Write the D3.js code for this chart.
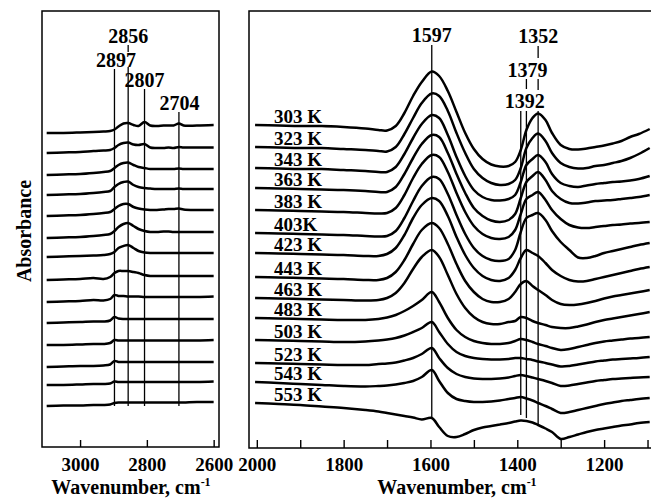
<!DOCTYPE html>
<html><head><meta charset="utf-8">
<script src="https://cdn.jsdelivr.net/npm/d3@7"></script>
<style>
body{margin:0;background:#fff}
text{font-family:"Liberation Serif","Times New Roman",serif;font-weight:bold;fill:#000}
</style>
</head><body>
<svg id="c" width="652" height="500"></svg>
<script>
// ---------------- DATA ----------------
const temperatures = ["303 K","323 K","343 K","363 K","383 K","403K","423 K","443 K","463 K","483 K","503 K","523 K","543 K","553 K"];

// left panel (C-H region)
const leftWavenumbers = [3100,3050,3000,2960,2930,2910,2897,2885,2870,2856,2840,2825,2807,2790,2770,2750,2735,2720,2704,2690,2650,2600];
const leftOffsets = [315,295,273,253,232,210,191,168,146,125,103,81,63,42];
const leftDeltas = [
  [0,0,0.5,1,1.5,2,3.5,6.5,9.5,10,8,7,11,7.5,7,7.5,7.5,7.5,9.5,7.5,7.5,8],
  [0,0.5,1,2,2.5,3,5,8,10,10.5,8.5,8,9,5.5,5,5,5.5,5,6,5.5,5.5,5.5],
  [0,0.5,1,2,3,4,7,10,12,12.5,10,8,7,6,6,6,6,6,6.5,6,6,6],
  [0,0.5,1,2,3,4,8,11,13,13.5,10,8,7,6.5,6,6,6,6,6.5,6,6,6],
  [0,0.5,1,2,3,4,7,10,12,12,9,7.5,6.5,6,6,6.5,7,7,7.5,6.5,6,6],
  [0,0.5,1,2,3,4,7,11,14,15,12,9,7,6,6,6.5,6.5,6,6,6,6,6],
  [0,0.5,1,1.5,2,3,5,9,11,12,9,6,4.5,4,4,4,4,4,4,4,4,4],
  [0,0.5,1,2,1,3,7,9,9,9,8,7,5,4,4,4,4,4,4,4,4,4],
  [0,0.5,1,2,1.5,3,7,6,6,5.5,5.5,5.5,5,5,5,5,5,5,5,5,5,5.5],
  [0,0.5,1,1.5,1.5,2.5,6,4.5,4,4,4,4,4,4,4,4,4,4,4,4,4,4],
  [0,0,0.5,1,1,2,5,4.5,4.5,4.5,4.5,4.5,4.5,4.5,4.5,4.5,4.5,4.5,4.5,4.5,4.5,5],
  [0,0.5,1,1,1.5,2.5,6,5,5,5,5,5,5,5,5,5,5,5,5,5,5,5],
  [0,0,0.5,1,1,1.5,3.5,3,3,3,3,3,3,3,3,3,3,3,3,3,3,3.5],
  [0,0.5,0.5,1,1,1.5,3,3.5,3.5,3.5,3.5,3.5,3.5,3.5,3.5,3.5,3.5,3.5,3.5,3.5,4,4]
];
const leftPeaks = [2897,2856,2807,2704];
const leftTicks = [3000,2800,2600];

// right panel (OCO / CH region)
const rightWavenumbers = [2004,1950,1900,1850,1800,1750,1720,1700,1680,1660,1640,1620,1597,1580,1560,1540,1520,1500,1480,1460,1440,1420,1405,1392,1379,1365,1352,1335,1320,1300,1280,1260,1240,1220,1200,1180,1160,1140,1120,1095];
const rightOffsets = [323,301,280,260,238,215,195,171,150,130,108,85,66,45];
const rightDeltas = [
  [0,-0.5,-1,-1,-2,-3.5,-5,-5.5,-1,12,29,43,53.5,49,34,13,-8,-24,-34,-39.5,-41.5,-41,-37,-25,-5,7,11.5,5,-8,-20,-24,-24.5,-23.5,-22,-20.5,-18.5,-16,-12,-9,-4],
  [0,-0.5,-1,-1,-2,-3,-4,-4.5,0,13,29,44,53.5,51,36,14,-6,-22,-31,-36,-38,-37,-33,-21,-1,9,13.5,6,-6,-16,-20,-21.5,-21,-19,-18,-16,-14,-11,-7,-1],
  [0,-0.5,-1,-1,-2,-3,-4,-4,1,14,30,44,53,50,33,11,-8,-22,-29,-32,-32.5,-31,-27,-14,3,9,13,6,-6,-15,-18,-19,-17.5,-16,-15,-14,-13.5,-12.5,-11,-8],
  [0,-0.5,-1,-1.5,-2,-3,-4,-4,1,14,30,44,53,51,35,14,-5,-20,-28,-32.5,-34,-32,-26,-10,6,12,16,8,-3,-11,-15,-15.5,-14.5,-13,-12.5,-12,-11,-10,-9,-7],
  [0,-0.5,-1,-1.5,-2,-3,-3.5,-3,2,15,32,46,55,53,38,17,-2,-16,-24,-28,-29,-27,-20,-4,11,15,18,10,0,-9,-15,-17.5,-18,-17,-16,-15,-14.5,-13.5,-13,-12],
  [0,-0.5,-1,-1.5,-2,-3,-3.5,-3,2,15,32,47,56,54,39,18,-1,-15,-23,-27,-28,-26,-17,1,15,18,20,13,2,-9,-17,-24.5,-25,-23,-20,-18,-16,-14,-12,-10],
  [0,-0.5,-1,-1.5,-2,-3,-3,-1,5,18,35,48,55,52,37,16,-2,-15,-23,-27,-28,-25,-17,-5,3,0,-3,-10,-17,-23,-27,-28.5,-28,-26,-24,-22,-20,-18,-16,-14],
  [0,-0.5,-1,-1.5,-2,-3,-3,-1,5,17,33,47,54,49,33,13,-4,-15,-22,-25,-25,-22,-15,-7,-4,-9,-13,-18,-23,-27,-28,-27.5,-26,-24,-21.5,-19.5,-18,-16.5,-15,-13],
  [0,-0.5,-1,-1.5,-2,-2.5,-2,0,5,15,29,41,48,41,23,4,-10,-19,-24,-26,-26,-24,-23,-19,-20,-23,-25,-27,-29,-30,-30,-28.5,-26.5,-24,-22,-20.5,-19,-17.5,-16,-14],
  [0,-0.5,-1,-1.5,-2,-2,-1,0.5,3,7,12,18,26,16,0,-12,-19,-23,-25,-26,-26,-25,-23,-21,-22,-24,-26,-28,-30,-32,-31,-29,-27,-25,-23.5,-22.5,-21.5,-20.5,-20,-19],
  [0,-0.5,-1,-1.5,-2,-1.5,-0.5,0.5,2,4.5,8,12,18,8,-4,-12,-16,-18,-19,-19.5,-19.5,-19,-18,-18,-19,-20,-21.5,-23,-24.5,-26.5,-26,-24.5,-23,-21.5,-20.5,-19.5,-19,-18.5,-18,-17],
  [0,-0.5,-1,-1.5,-2,-2,-1,-0.5,0.5,2.5,5,9,15,5,-5,-11,-14,-15.5,-16,-16,-15.5,-14.5,-13,-12,-13,-14.5,-16,-18,-20,-23,-22.5,-21,-19.5,-18,-17,-16,-15.5,-15,-14.5,-14],
  [0,-1,-2,-3,-4,-4.5,-4,-3.5,-2.5,-1,1,5,12,1,-11,-17,-19,-20,-20,-19.5,-18.5,-17,-16,-15,-16.5,-18.5,-21,-24,-27,-31,-30,-28,-26,-24,-22,-20.5,-19,-18,-17,-16],
  [0,-1,-2,-3.5,-5,-7,-8.5,-10,-11.5,-13,-14.5,-16.5,-15,-24,-33,-34,-31,-27,-24.5,-23,-21.5,-20,-18.5,-17.5,-18,-19.5,-22,-25.5,-29,-36,-34,-31.5,-29,-27,-25.5,-24,-22.5,-21.5,-20,-19]
];
const rightPeaks = [1597,1392,1379,1352];
const rightTicks = [2000,1900,1800,1700,1600,1500,1400,1300,1200,1100];
const rightLabelEvery = 200;

// ---------------- LAYOUT ----------------
const svg = d3.select("#c");
const y = d3.scaleLinear().domain([0,437]).range([448,11]);
const xL = d3.scaleLinear().domain([3114,2584]).range([42,219]);
const xR = d3.scaleLinear().domain([2018,1092]).range([249,651]);
const curve = d3.curveCatmullRom.alpha(0.5);

// frames
svg.append("rect").attr("x",42).attr("y",11).attr("width",177).attr("height",436)
  .attr("fill","none").attr("stroke","#000").attr("stroke-width",1.5);
svg.append("path").attr("d","M651,11H249V448H651")
  .attr("fill","none").attr("stroke","#000").attr("stroke-width",1.5);

// axes
function styleAxis(g){
  g.select(".domain").remove();
  g.selectAll(".tick line").attr("stroke","#000").attr("stroke-width",1.4);
  g.selectAll(".tick text").attr("font-size",19).attr("font-family","Liberation Serif, serif").attr("font-weight","bold");
}
svg.append("g").attr("transform","translate(0,447)")
  .call(d3.axisBottom(xL).tickValues(leftTicks).tickSize(-7).tickPadding(10.5).tickFormat(d3.format("d")))
  .call(styleAxis);
svg.append("g").attr("transform","translate(0,448)")
  .call(d3.axisBottom(xR).tickValues(rightTicks).tickSize(-8).tickPadding(9.5)
    .tickFormat(d => d % rightLabelEvery === 0 ? d : ""))
  .call(styleAxis);

// axis titles
function xTitle(cx){
  const t = svg.append("text").attr("x",cx).attr("y",494).attr("text-anchor","middle").attr("font-size",20);
  t.append("tspan").text("Wavenumber, cm");
  t.append("tspan").attr("font-size",12).attr("dy",-8).text("-1");
}
xTitle(131);
xTitle(457);
svg.append("text").attr("transform","translate(31,231) rotate(-90)")
  .attr("text-anchor","middle").attr("font-size",20).text("Absorbance");

// spectra generators
const lineL = d3.line().x((d,i)=>xL(leftWavenumbers[i])).y(d=>y(d)).curve(curve);
const lineR = d3.line().x((d,i)=>xR(rightWavenumbers[i])).y(d=>y(d)).curve(curve);

function vseg(x, y1, y2){
  svg.append("line").attr("x1",x).attr("x2",x).attr("y1",y1).attr("y2",y2)
    .attr("stroke","#000").attr("stroke-width",1.3);
}
// left panel markers
const leftMarkerLayout = {2897:{top:69,ly:67,dx:1.5}, 2856:{top:67,ly:43,dx:0,seg:[45,52]}, 2807:{top:89,ly:87,dx:0}, 2704:{top:112,ly:110,dx:0.5}};
leftPeaks.forEach(p=>{
  const L = leftMarkerLayout[p], x = xL(p);
  vseg(x, L.top, 406);
  if (L.seg) vseg(x, L.seg[0], L.seg[1]);
  svg.append("text").attr("x",x+L.dx).attr("y",L.ly).attr("text-anchor","middle").attr("font-size",20).text(p);
});
// right panel markers
const rightMarkerLayout = {
  1597:{segs:[[45,417]], ly:42, dx:0},
  1392:{segs:[[111,415]], ly:108, dx:4},
  1379:{segs:[[79,89],[111,418]], ly:77, dx:1},
  1352:{segs:[[46,58],[79,90],[111,424]], ly:43, dx:0}
};
rightPeaks.forEach(p=>{
  const L = rightMarkerLayout[p], x = xR(p);
  L.segs.forEach(s=>vseg(x, s[0], s[1]));
  svg.append("text").attr("x",x+L.dx).attr("y",L.ly).attr("text-anchor","middle").attr("font-size",20).text(p);
});

leftDeltas.forEach((s,k)=>{
  svg.append("path").attr("d", lineL(s.map(d=>leftOffsets[k]+d)))
    .attr("fill","none").attr("stroke","#000").attr("stroke-width",2.5).attr("stroke-linejoin","round");
});
rightDeltas.forEach((s,k)=>{
  svg.append("path").attr("d", lineR(s.map(d=>rightOffsets[k]+d)))
    .attr("fill","none").attr("stroke","#000").attr("stroke-width",2.5).attr("stroke-linejoin","round");
});

// temperature labels
temperatures.forEach((t,k)=>{
  svg.append("text").attr("x",274).attr("y",y(rightOffsets[k])-2).attr("font-size",19).text(t);
});
</script>
</body></html>
